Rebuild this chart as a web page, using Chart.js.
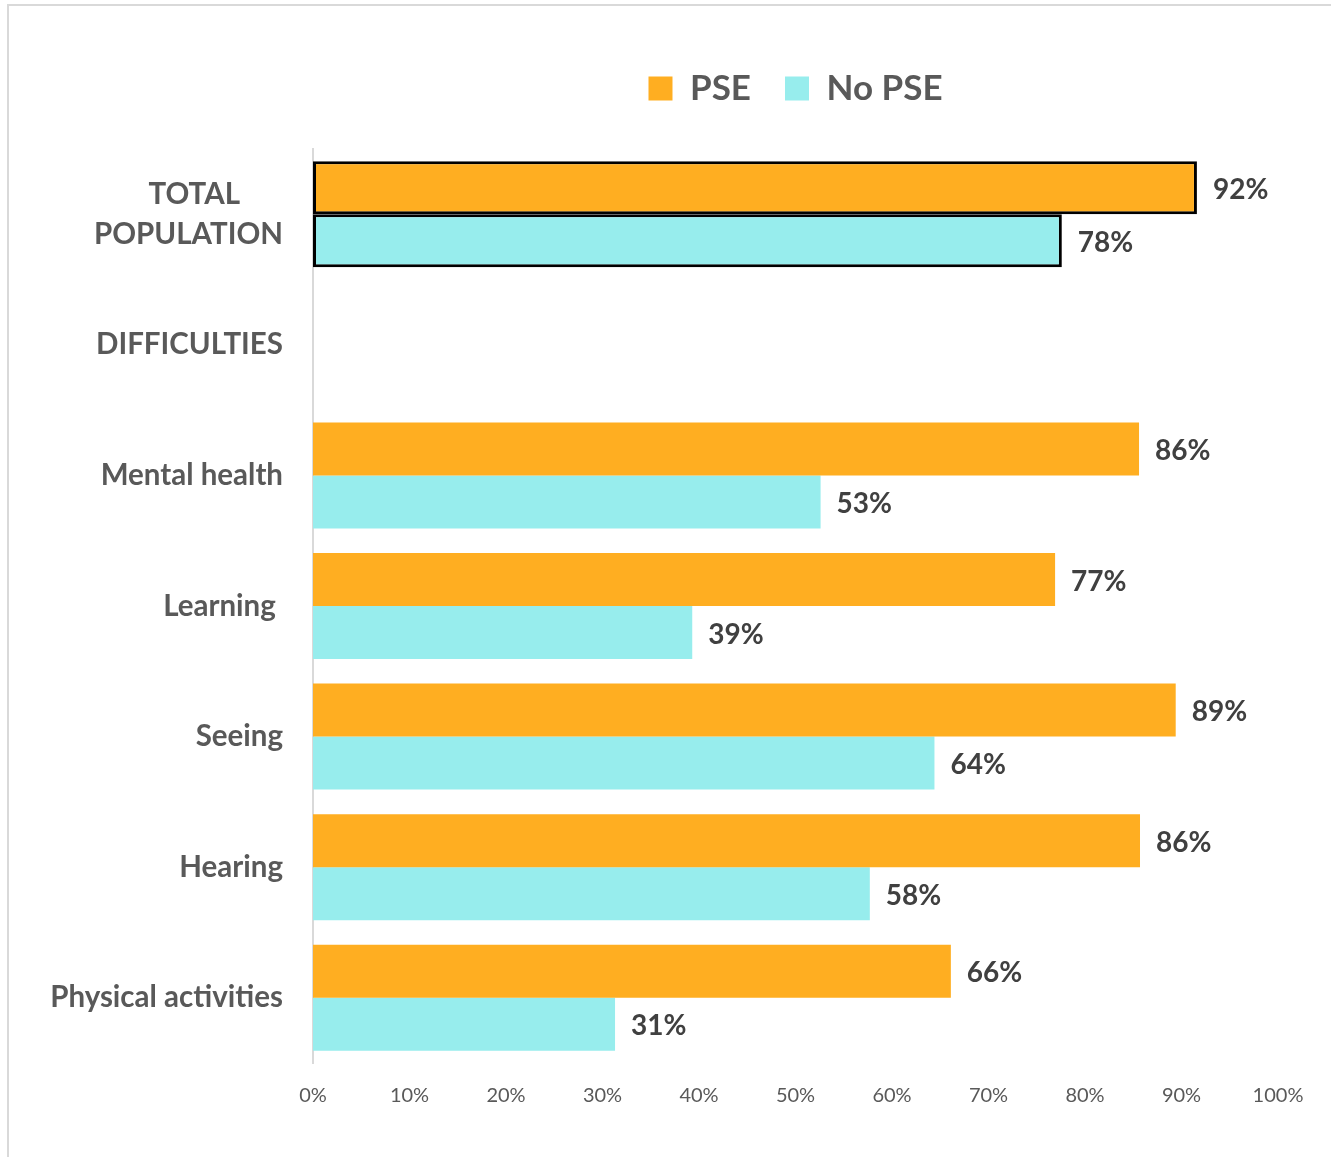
<!DOCTYPE html>
<html>
<head>
<meta charset="utf-8">
<script src="https://cdn.jsdelivr.net/npm/chart.js@4"></script>
<style>
  html, body { margin: 0; padding: 0; background: #fff; overflow: hidden; }
  .frame { position: absolute; left: 7px; top: 4px; width: 1400px; height: 1300px; border: 2px solid #d9d9d9; }
  .wrap { position: absolute; left: 0; top: 0; width: 1331px; height: 1157px; }
</style>
</head>
<body>
<div class="frame"></div>
<div class="wrap"><canvas id="chart"></canvas></div>
<script>
// ─── Data ─────────────────────────────────────────────────────────────────────
// trailing spaces keep "TOTAL" centred over "POPULATION" like the original
const categories = [['TOTAL      ', 'POPULATION'], 'DIFFICULTIES', 'Mental health', 'Learning ', 'Seeing', 'Hearing', 'Physical activities'];
const pseValues = [91.6, null, 85.6, 76.9, 89.4, 85.7, 66.1];
const noPseValues = [77.6, null, 52.6, 39.3, 64.4, 57.7, 31.3];
const xTicks = [0, 10, 20, 30, 40, 50, 60, 70, 80, 90, 100];

const FONT = 'Lato';
const orange = '#FFAE21';
const cyan = '#97EDED';

// draws "92%" style labels at the end of each bar
const barLabels = {
  id: 'barLabels',
  afterDatasetsDraw(chart) {
    const { ctx } = chart;
    ctx.save();
    ctx.font = `bold 28px ${FONT}`;
    ctx.fillStyle = '#404040';
    ctx.textAlign = 'left';
    ctx.textBaseline = 'middle';
    chart.data.datasets.forEach((ds, di) => {
      chart.getDatasetMeta(di).data.forEach((bar, i) => {
        const v = ds.data[i];
        if (v == null) return;
        ctx.fillText(Math.round(v) + '%', bar.x + 16, bar.y + 2);
      });
    });
    ctx.restore();
  }
};

const totalBorder = ctx => (ctx.dataIndex === 0 ? 3 : 0);

new Chart(document.getElementById('chart'), {
  type: 'bar',
  data: {
    labels: categories,
    datasets: [
      { label: 'PSE', data: pseValues, backgroundColor: orange, borderColor: '#000', borderWidth: totalBorder, borderSkipped: false },
      { label: 'No PSE', data: noPseValues, backgroundColor: cyan, borderColor: '#000', borderWidth: totalBorder, borderSkipped: false }
    ]
  },
  options: {
    indexAxis: 'y',
    responsive: true,
    maintainAspectRatio: false,
    animation: false,
    categoryPercentage: 0.812,
    barPercentage: 1,
    layout: { padding: { top: 37, right: 53, bottom: 0, left: 0 } },
    plugins: {
      legend: {
        position: 'top',
        fullSize: false,
        labels: {
          boxWidth: 24, boxHeight: 24, padding: 34,
          color: '#595959',
          font: { family: FONT, size: 35, weight: 'bold' },
          generateLabels: chart => chart.data.datasets.map((ds, i) => ({
            text: ds.label, fillStyle: ds.backgroundColor, strokeStyle: ds.backgroundColor,
            lineWidth: 0, fontColor: '#595959', datasetIndex: i, hidden: false
          }))
        }
      },
      subtitle: {
        display: true, text: ' ', weight: 500,
        font: { size: 1, lineHeight: 1 },
        padding: { top: 0, bottom: 32 }
      },
      tooltip: { enabled: false }
    },
    scales: {
      x: {
        min: 0, max: 100,
        afterBuildTicks: s => { s.ticks = xTicks.map(v => ({ value: v })); },
        afterFit: s => { s.height = 94; },
        grid: { display: false },
        border: { display: false },
        ticks: { color: '#595959', padding: 13, font: { family: FONT, size: 20 }, callback: v => v + '%' }
      },
      y: {
        afterFit: s => { s.width = 313; },
        grid: { display: false, drawTicks: false },
        border: { display: true, color: '#d9d9d9', width: 2 },
        ticks: { color: '#595959', padding: 30, font: { family: FONT, size: 29.5, weight: 'bold', lineHeight: 1.36 } }
      }
    }
  },
  plugins: [barLabels]
});
</script>
</body>
</html>
